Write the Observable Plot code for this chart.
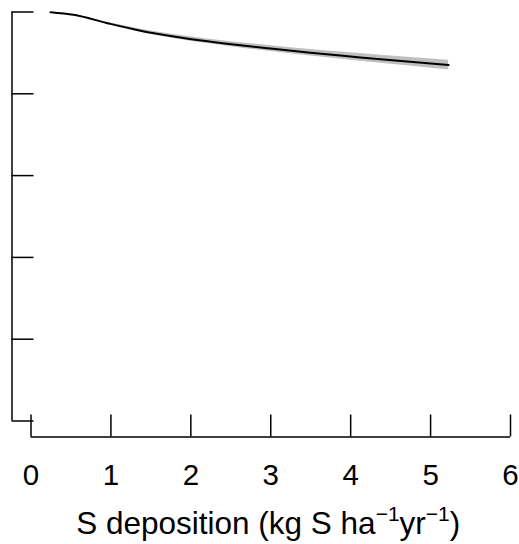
<!DOCTYPE html>
<html>
<head>
<meta charset="utf-8">
<script src="https://cdn.jsdelivr.net/npm/d3@7"></script>
<script src="https://cdn.jsdelivr.net/npm/@observablehq/plot@0.6"></script>
<style>
  html, body { margin: 0; padding: 0; background: #fff; }
  svg { display: block; }
</style>
</head>
<body>
<div id="chart"></div>
<script>
// S deposition (x) and fitted response (y), with half-width of the confidence band
const deposition = [0.244, 0.532, 0.957, 1.371, 1.784, 2.209, 2.622, 2.998, 3.498, 3.999, 4.374, 5.225];
const fitted     = [0.9995, 0.9932, 0.9726, 0.9543, 0.9401, 0.9284, 0.9186, 0.9106, 0.9005, 0.8912, 0.8844, 0.8702];
const bandHalf   = [0, 0.0007, 0.0024, 0.0037, 0.0049, 0.0056, 0.0064, 0.0071, 0.0081, 0.0090, 0.0098, 0.0118];
const xTicks = [0, 1, 2, 3, 4, 5, 6];
const yTicks = [0, 0.2, 0.4, 0.6, 0.8, 1.0];
const xLabel = ["S deposition (kg S ha", "\u22121", "yr", "\u22121", ")"];

const rows = deposition.map((d, i) => ({x: d, y: fitted[i], lo: fitted[i] - bandHalf[i], hi: fitted[i] + bandHalf[i]}));
const font = "'Liberation Sans', Arial, Helvetica, sans-serif";

const plot = Plot.plot({
  width: 519,
  height: 544,
  marginLeft: 30.5,
  marginRight: 9,
  marginTop: 11.5,
  marginBottom: 123.5,
  style: {fontFamily: font, background: "#fff"},
  x: {domain: [xTicks[0], xTicks[xTicks.length - 1]], axis: null},
  y: {domain: [yTicks[0], yTicks[yTicks.length - 1]], axis: null},
  marks: [
    Plot.areaY(rows, {x: "x", y1: "lo", y2: "hi", fill: "#bfbfbf", curve: "monotone-x"}),
    Plot.line(rows, {x: "x", y: "y", stroke: "#000", strokeWidth: 2, curve: "monotone-x"}),
    // y axis: line and inward ticks, offset left of the plot
    Plot.ruleX([xTicks[0]], {dx: -19, stroke: "#000", strokeWidth: 1.5}),
    Plot.axisY({ticks: yTicks, tickSize: -22, tickFormat: () => "", label: null, dx: -19, strokeWidth: 1.5, stroke: "#000"}),
    // x axis: line and upward ticks, offset below the plot
    Plot.ruleY([yTicks[0]], {x1: xTicks[0], x2: xTicks[xTicks.length - 1], dy: 16, stroke: "#000", strokeWidth: 1.5}),
    Plot.axisX({ticks: xTicks, tickSize: -22, tickFormat: () => "", label: null, dy: 16, strokeWidth: 1.5, stroke: "#000"}),
    Plot.text(xTicks, {x: d => d, text: d => String(d), frameAnchor: "bottom", dy: 64, fontSize: 29.5, fill: "#000"})
  ]
});

const svg = d3.select(plot);
const xs = plot.scale("x");
const label = svg.append("text")
  .attr("x", xs.apply(3) - 2)
  .attr("y", 534)
  .attr("text-anchor", "middle")
  .attr("font-family", font)
  .attr("font-size", 31.5)
  .attr("fill", "#000");
label.append("tspan").text(xLabel[0]);
label.append("tspan").attr("dy", -13).attr("font-size", 21).text(xLabel[1]);
label.append("tspan").attr("dy", 13).text(xLabel[2]);
label.append("tspan").attr("dy", -13).attr("font-size", 21).text(xLabel[3]);
label.append("tspan").attr("dy", 13).text(xLabel[4]);

document.getElementById("chart").appendChild(plot);
</script>
</body>
</html>
